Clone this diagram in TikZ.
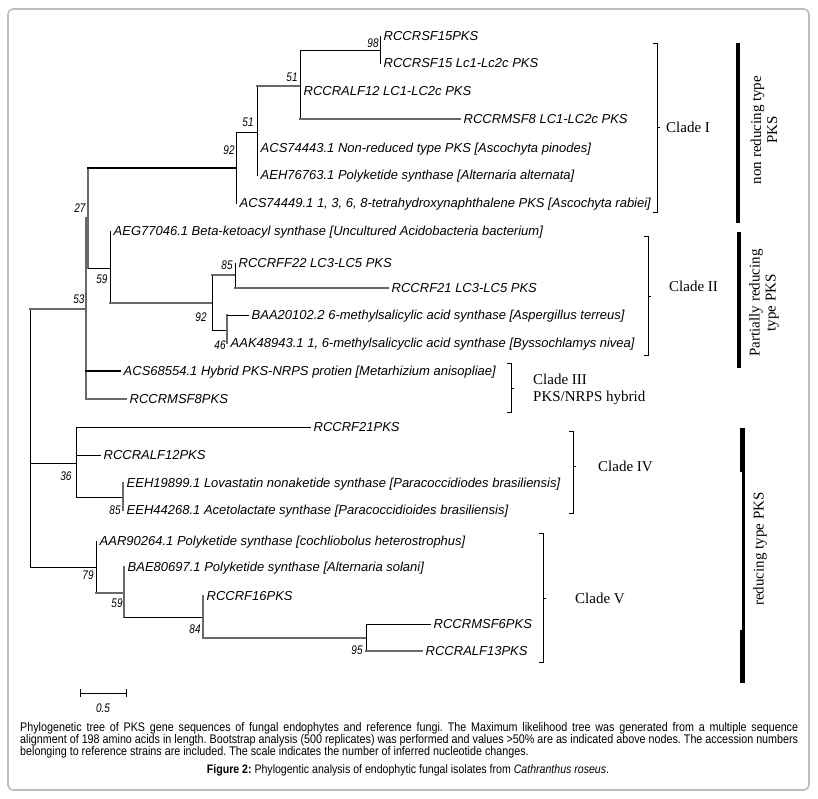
\documentclass[tikz,border=0pt]{standalone}
\usepackage{fontspec}
\setmainfont{Liberation Serif}
\newfontfamily\leaffont{Liberation Sans}
\newfontfamily\bootfont[FakeStretch=0.8]{Liberation Sans}
\newfontfamily\capfont[FakeStretch=0.86]{Liberation Sans}
\usetikzlibrary{calc}
\definecolor{brgray}{RGB}{105,105,105}
\definecolor{framegray}{RGB}{190,190,190}
\newcommand{\branchcolor}{brgray}
\newcommand{\thinline}{1pt}
\newcommand{\greyline}{1.7pt}
\newcommand{\boldline}{2.2pt}
\tikzset{
  leaf/.style={anchor=west, inner xsep=3.5pt, inner ysep=0pt, text height=9.3pt, text depth=0pt,
    font=\leaffont\itshape\fontsize{13}{15}\selectfont},
  boot/.style={inner sep=0pt, font=\bootfont\itshape\fontsize{12.5}{13}\selectfont},
  br/.style={black, line width=\thinline, line cap=rect},
  brg/.style={\branchcolor, line width=\greyline, line cap=rect},
  brk/.style={black, line width=\boldline, line cap=rect},
  clade/.style={black, line width=0.9pt},
  cladetext/.style={anchor=west, inner sep=0pt, align=left, font=\fontsize{15}{17}\selectfont},
  grouptext/.style={rotate=90, align=center, inner sep=0pt, font=\fontsize{15}{16}\selectfont}
}
\frenchspacing

\begin{document}
\begin{tikzpicture}[x=1pt, y=-1pt]
\useasboundingbox (0,0) rectangle (818,798);
\draw[framegray, line width=1.6pt, rounded corners=5pt] (8,9) rectangle (809,790);
%leaves
\node[leaf] (l1) at (380, 36) {RCCRSF15PKS};
\node[leaf] (l2) at (380, 63) {RCCRSF15 Lc1-Lc2c PKS};
\node[leaf] (l3) at (300, 91) {RCCRALF12 LC1-LC2c PKS};
\node[leaf] (l4) at (460, 119) {RCCRMSF8 LC1-LC2c PKS};
\node[leaf] (l5) at (257, 148) {ACS74443.1 Non-reduced type PKS [Ascochyta pinodes]};
\node[leaf] (l6) at (257, 175) {AEH76763.1 Polyketide synthase [Alternaria alternata]};
\node[leaf] (l7) at (236, 203) {ACS74449.1 1, 3, 6, 8-tetrahydroxynaphthalene PKS [Ascochyta rabiei]};
\node[leaf] (l8) at (110, 231) {AEG77046.1 Beta-ketoacyl synthase [Uncultured Acidobacteria bacterium]};
\node[leaf] (l9) at (235, 263) {RCCRFF22 LC3-LC5 PKS};
\node[leaf] (l10) at (388, 288) {RCCRF21 LC3-LC5 PKS};
\node[leaf] (l11) at (248, 315) {BAA20102.2 6-methylsalicylic acid synthase [Aspergillus terreus]};
\node[leaf] (l12) at (227, 343) {AAK48943.1 1, 6-methylsalicyclic acid synthase [Byssochlamys nivea]};
\node[leaf] (l13) at (120, 371) {ACS68554.1 Hybrid PKS-NRPS protien [Metarhizium anisopliae]};
\node[leaf] (l14) at (126, 399) {RCCRMSF8PKS};
\node[leaf] (l15) at (310, 427) {RCCRF21PKS};
\node[leaf] (l16) at (100, 455) {RCCRALF12PKS};
\node[leaf] (l17) at (123, 483) {EEH19899.1 Lovastatin nonaketide synthase [Paracoccidiodes brasiliensis]};
\node[leaf] (l18) at (123, 510) {EEH44268.1 Acetolactate synthase [Paracoccidioides brasiliensis]};
\node[leaf] (l19) at (96, 541) {AAR90264.1 Polyketide synthase [cochliobolus heterostrophus]};
\node[leaf] (l20) at (124, 567) {BAE80697.1 Polyketide synthase [Alternaria solani]};
\node[leaf] (l21) at (203, 596) {RCCRF16PKS};
\node[leaf] (l22) at (430, 624) {RCCRMSF6PKS};
\node[leaf] (l23) at (422, 651) {RCCRALF13PKS};
%inner nodes
\coordinate (root) at (30, 437);
\coordinate (n53) at (86, 309);
\coordinate (n27) at (88, 218);
\coordinate (n92) at (236, 168);
\coordinate (n51l) at (257, 132);
\coordinate (n51u) at (300, 86);
\coordinate (n98) at (380, 50);
\coordinate (n59) at (110, 268);
\coordinate (n92b) at (212, 303);
\coordinate (n85) at (235, 275);
\coordinate (n46) at (227, 330);
\coordinate (n36) at (76, 463);
\coordinate (n85b) at (123, 497);
\coordinate (n79) at (96, 567);
\coordinate (n59b) at (124, 593);
\coordinate (n84) at (203, 617);
\coordinate (n95) at (366, 638);
%root
\draw[br] (root |- n53) -- (root |- n79);
\draw[brg] (root |- n53) -- (n53);
\draw[br] (root |- n36) -- (n36);
\draw[br] (root |- n79) -- (n79);
%53
\draw[brg] (n53 |- n27) -- (n53 |- l14.west);
\draw[brg] (n53 |- n27) -- (n27);
\draw[brk] (n53 |- l13.west) -- (l13.west);
\draw[brg] (n53 |- l14.west) -- (l14.west);
%27
\draw[brg] (n27 |- n92) -- (n27 |- n59);
\draw[brk] (n27 |- n92) -- (n92);
\draw[br] (n27 |- n59) -- (n59);
%92
\draw[br] (n92 |- n51l) -- (n92 |- l7.west);
\draw[br] (n92 |- n51l) -- (n51l);
\draw[br] (n51l |- n51u) -- (n51l |- l6.west);
\draw[brg] (n51l |- n51u) -- (n51u);
\draw[br] (n51u |- n98) -- (n51u |- l4.west);
\draw[br] (n51u |- n98) -- (n98);
\draw[brg] (n51u |- l4.west) -- (l4.west);
\draw[br] (n98 |- l1.west) -- (n98 |- l2.west);
%59
\draw[br] (n59 |- l8.west) -- (n59 |- n92b);
\draw[brg] (n59 |- n92b) -- (n92b);
\draw[br] (n92b |- n85) -- (n92b |- n46);
\draw[brg] (n92b |- n85) -- (n85);
\draw[br] (n92b |- n46) -- (n46);
\draw[br] (n85 |- l9.west) -- (n85 |- l10.west);
\draw[brg] (n85 |- l10.west) -- (l10.west);
\draw[brg] (n46 |- l11.west) -- (n46 |- l12.west);
\draw[br] (n46 |- l11.west) -- (l11.west);
%36
\draw[br] (n36 |- l15.west) -- (n36 |- n85b);
\draw[br] (n36 |- l15.west) -- (l15.west);
\draw[br] (n36 |- l16.west) -- (l16.west);
\draw[br] (n36 |- n85b) -- (n85b);
\draw[brg] (n85b |- l17.west) -- (n85b |- l18.west);
%79
\draw[br] (n79 |- l19.west) -- (n79 |- n59b);
\draw[brg] (n79 |- n59b) -- (n59b);
\draw[brg] (n59b |- l20.west) -- (n59b |- n84);
\draw[br] (n59b |- n84) -- (n84);
\draw[brg] (n84 |- l21.west) -- (n84 |- n95);
\draw[brg] (n84 |- n95) -- (n95);
\draw[br] (n95 |- l22.west) -- (n95 |- l23.west);
\draw[br] (n95 |- l22.west) -- (l22.west);
\draw[brg] (n95 |- l23.west) -- (l23.west);
%bootstrap values
\node[boot] (b98) at (373, 43) {98};
\node[boot] (b51u) at (292, 77) {51};
\node[boot] (b51l) at (248, 122) {51};
\node[boot] (b92) at (229, 150) {92};
\node[boot] (b27) at (80, 208) {27};
\node[boot] (b59) at (102, 279) {59};
\node[boot] (b53) at (79, 299) {53};
\node[boot] (b85) at (227, 265) {85};
\node[boot] (b92b) at (201, 317) {92};
\node[boot] (b46) at (220, 345) {46};
\node[boot] (b36) at (66, 476) {36};
\node[boot] (b85b) at (115, 510) {85};
\node[boot] (b79) at (88, 575) {79};
\node[boot] (b59b) at (117, 603) {59};
\node[boot] (b84) at (195, 629) {84};
\node[boot] (b95) at (357, 650) {95};
%clades
\draw[clade] (653,43) -- (657,43) -- (657,212) -- (653,212) (657,127) -- (660,127);
\node[cladetext] (cladeI) at (666, 127) {Clade I};
\draw[clade] (644,236) -- (648,236) -- (648,355) -- (644,355) (648,296) -- (651,296);
\node[cladetext] (cladeII) at (669, 286) {Clade II};
\draw[clade] (507,363) -- (511,363) -- (511,412) -- (507,412) (511,388) -- (514,388);
\node[cladetext] (cladeIII) at (533, 389) {Clade III\\PKS/NRPS hybrid};
\draw[clade] (569,431) -- (573,431) -- (573,513) -- (569,513) (573,466) -- (576,466);
\node[cladetext] (cladeIV) at (598, 466) {Clade IV};
\draw[clade] (539,533) -- (543,533) -- (543,662) -- (539,662) (543,598) -- (546,598);
\node[cladetext] (cladeV) at (575, 598) {Clade V};
%groups
\fill (736,43) rectangle (740,223);
\node[grouptext] (nonred) at (764, 130) {non reducing type\\PKS};
\fill (737,232) rectangle (741,368);
\node[grouptext] (partred) at (764, 303) {Partially reducing\\type PKS};
\fill (740,428) rectangle (744.5,472);
\fill (742,472) rectangle (744.5,630);
\fill (740,630) rectangle (744.5,683);
\node[grouptext] (red) at (760, 549) {reducing type PKS};
%scale
\coordinate (sb1) at (80, 693);
\coordinate (sb2) at (126, 693);
\draw[br, line cap=butt] (sb1) -- (sb2);
\draw[br, line cap=butt] ($(sb1)+(0,-4)$) -- ($(sb1)+(0,4)$);
\draw[br, line cap=butt] ($(sb2)+(0,-4)$) -- ($(sb2)+(0,4)$);
\node[boot] (sblabel) at (103, 708) {0.5};
%caption
\node[anchor=north west, inner sep=0pt, text width=778pt, align=justify,
  font=\capfont\fontsize{12.5}{12}\selectfont] (caption) at (20, 722.5)
  {Phylogenetic tree of PKS gene sequences of fungal endophytes and reference fungi. The Maximum likelihood tree was generated from a multiple sequence\linebreak
  alignment of 198 amino acids in length. Bootstrap analysis (500 replicates) was performed and values >50\% are as indicated above nodes. The accession numbers\linebreak
  belonging to reference strains are included. The scale indicates the number of inferred nucleotide changes.};
\node[inner sep=0pt, font=\capfont\fontsize{12.3}{12}\selectfont] (figtitle) at (408, 770)
  {\textbf{Figure 2:} Phylogentic analysis of endophytic fungal isolates from \textit{Cathranthus roseus}.};
\end{tikzpicture}
\end{document}
